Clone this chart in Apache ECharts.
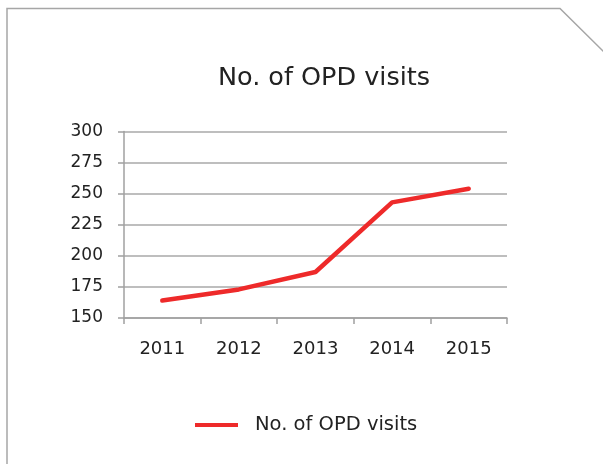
<!DOCTYPE html>
<html>
<head>
<meta charset="utf-8">
<script src="https://cdn.jsdelivr.net/npm/echarts@6/dist/echarts.min.js"></script>
<style>
  html, body { margin: 0; padding: 0; background: #fff; }
  #chart { width: 603px; height: 464px; }
</style>
</head>
<body>
<div id="chart"></div>
<script>
const years = ['2011', '2012', '2013', '2014', '2015']
const visits = [164, 173, 187, 243, 254]
const seriesName = 'No. of OPD visits'

const chart = echarts.init(document.getElementById('chart'))
const font = '"DejaVu Sans", "Noto Sans", sans-serif'

chart.setOption({
  backgroundColor: '#fff',
  animation: false,
  textStyle: { fontFamily: font },
  title: {
    text: seriesName,
    left: 319,
    textAlign: 'center',
    top: 60,
    textStyle: { fontSize: 25.5, fontWeight: 'normal', color: '#222', fontFamily: font }
  },
  graphic: [
    {
      type: 'polyline',
      shape: { points: [[7, 470], [7, 8.5], [560, 8.5], [606, 54]] },
      style: { stroke: '#a6a6a6', lineWidth: 1.5, fill: null }
    }
  ],
  legend: {
    data: [seriesName],
    left: 190,
    top: 410,
    icon: 'rect',
    itemWidth: 43,
    itemHeight: 4,
    textStyle: { fontSize: 19.5, color: '#222', fontFamily: font, padding: [0, 0, 0, 12] }
  },
  grid: { left: 124, right: 96, top: 131.5, bottom: 146 },
  xAxis: {
    type: 'category',
    data: years,
    boundaryGap: true,
    axisLine: { lineStyle: { color: '#a0a0a0', width: 1.5 } },
    axisTick: { show: true, length: 6, lineStyle: { color: '#a0a0a0', width: 1.5 } },
    axisLabel: { fontSize: 18, color: '#222', margin: 22 },
    splitLine: { show: false }
  },
  yAxis: {
    type: 'value',
    min: 150,
    max: 300,
    interval: 25,
    axisLine: { show: true, lineStyle: { color: '#a0a0a0', width: 1.5 } },
    axisTick: { show: true, length: 6, lineStyle: { color: '#a0a0a0', width: 1.5 } },
    axisLabel: { fontSize: 17, color: '#222', margin: 21 },
    splitLine: { lineStyle: { color: '#a8a8a8', width: 1.5 } }
  },
  series: [
    {
      name: seriesName,
      type: 'line',
      data: visits,
      symbol: 'none',
      lineStyle: { color: '#ee2a2a', width: 4.5, cap: 'round' },
      itemStyle: { color: '#ee2a2a' }
    }
  ]
})
</script>
</body>
</html>
